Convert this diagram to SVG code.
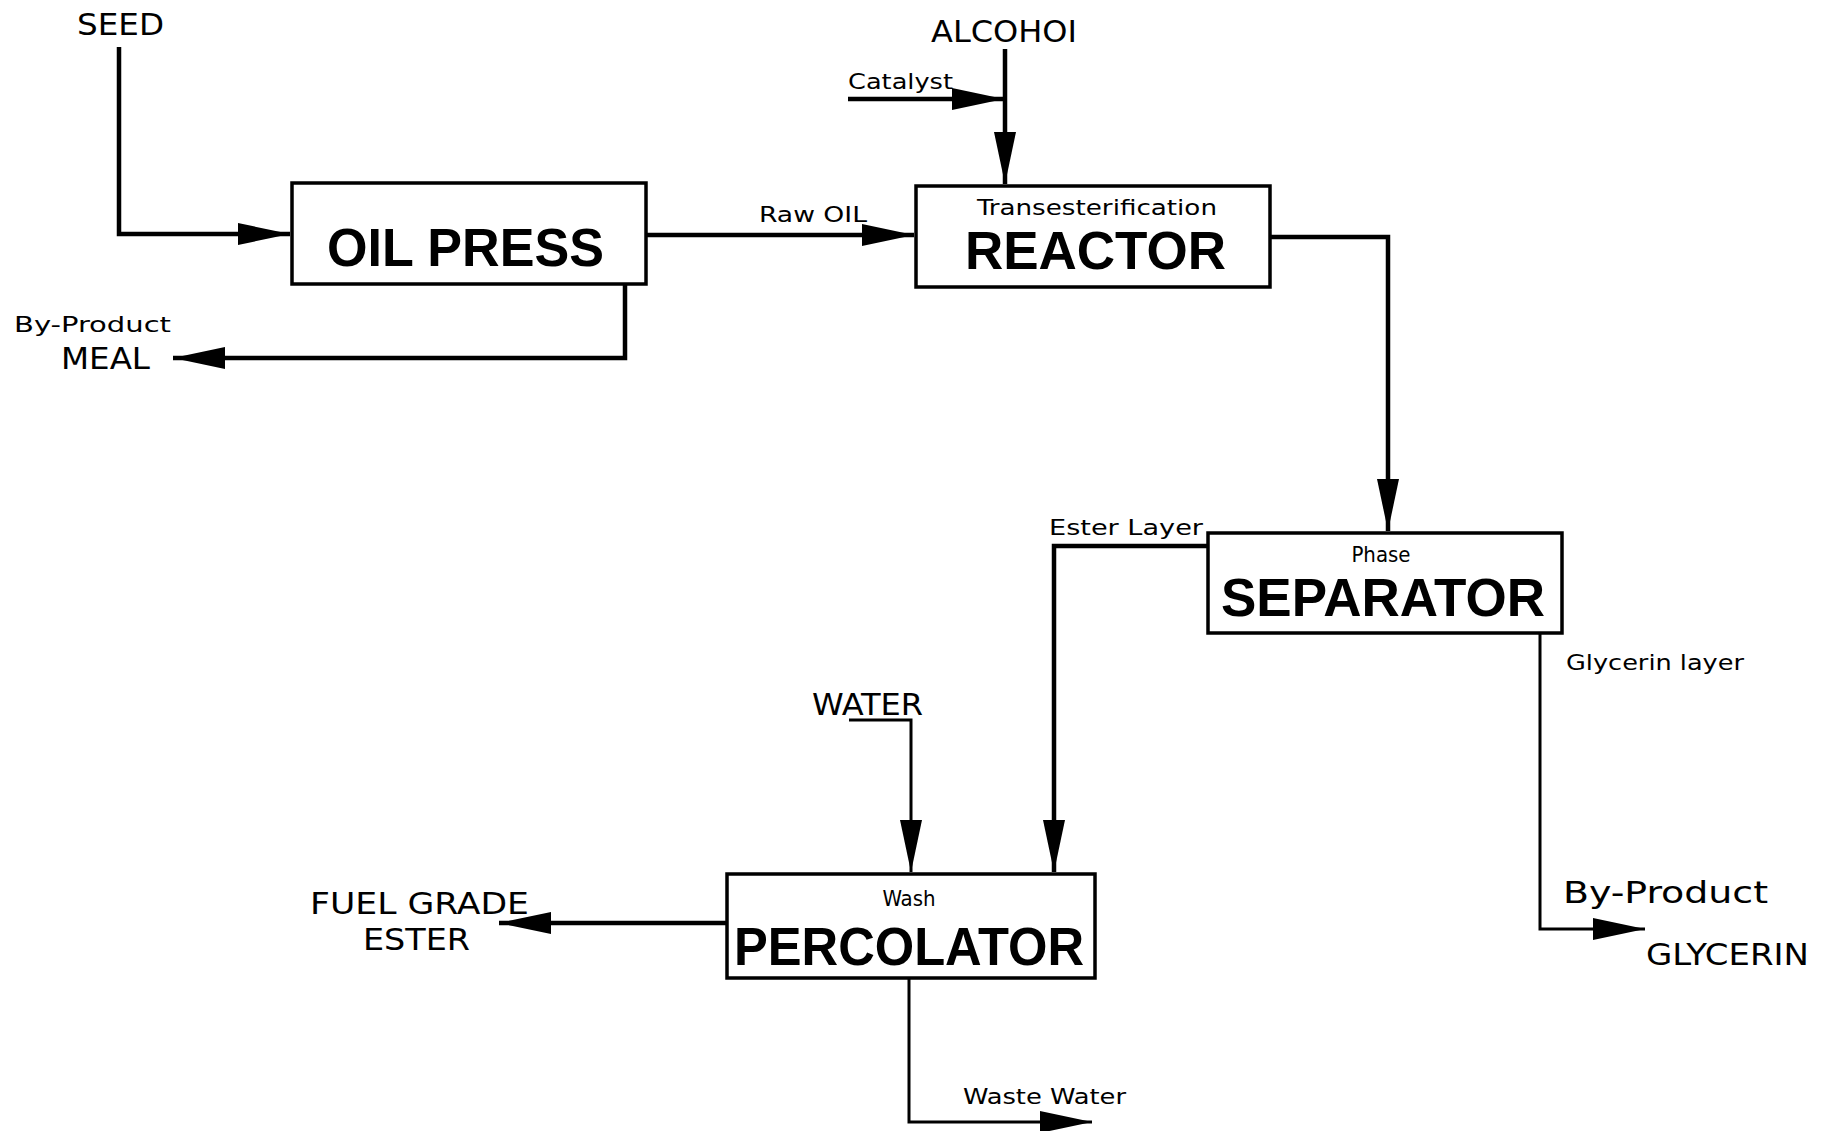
<svg xmlns="http://www.w3.org/2000/svg" width="1832" height="1131" viewBox="0 0 1832 1131">
<defs>
<marker id="ah" markerUnits="userSpaceOnUse" markerWidth="52" markerHeight="22" refX="52" refY="11" orient="auto" viewBox="0 0 52 22">
<path d="M0,0 L52,11 L0,22 Z" fill="#000"/>
</marker>
<style>
.box{fill:#fff;stroke:#000;stroke-width:3.5}
.ln{fill:none;stroke:#000;stroke-width:4.5}
.thin{fill:none;stroke:#000;stroke-width:3}
.big{font-family:"Liberation Sans",Arial,sans-serif;font-weight:bold;font-size:54px}
.lbl{font-family:"DejaVu Sans Condensed","DejaVu Sans",sans-serif;font-size:31px}
.sm{font-family:"DejaVu Sans Condensed","DejaVu Sans",sans-serif;font-size:22px}
</style>
</defs>
<rect width="1832" height="1131" fill="#fff"/>
<g id="connectors">
<polyline class="ln" points="119,47 119,234 290,234" marker-end="url(#ah)"/>
<line class="ln" x1="646" y1="235" x2="914" y2="235" marker-end="url(#ah)"/>
<polyline class="ln" points="625,284 625,358 173,358" marker-end="url(#ah)"/>
<line class="ln" x1="1005" y1="49" x2="1005" y2="184" marker-end="url(#ah)"/>
<line class="ln" x1="848" y1="99" x2="1004" y2="99" marker-end="url(#ah)"/>
<polyline class="ln" points="1270,237 1388,237 1388,531" marker-end="url(#ah)"/>
<polyline class="ln" points="1208,546 1054,546 1054,872" marker-end="url(#ah)"/>
<polyline class="thin" points="1540,633 1540,929 1645,929" marker-end="url(#ah)"/>
<polyline class="thin" points="849,720 911,720 911,872" marker-end="url(#ah)"/>
<line class="ln" x1="727" y1="923" x2="499" y2="923" marker-end="url(#ah)"/>
<polyline class="thin" points="909,978 909,1122 1092,1122" marker-end="url(#ah)"/>
</g>
<g id="oil-press">
<rect class="box" x="292" y="183" width="354" height="101"/>
<text class="big" x="327" y="266" textLength="277" lengthAdjust="spacingAndGlyphs">OIL PRESS</text>
</g>
<g id="reactor">
<rect class="box" x="916" y="186" width="354" height="101"/>
<text class="sm" x="977" y="215" textLength="240" lengthAdjust="spacingAndGlyphs">Transesterification</text>
<text class="big" x="965" y="269" textLength="261" lengthAdjust="spacingAndGlyphs">REACTOR</text>
</g>
<g id="separator">
<rect class="box" x="1208" y="533" width="354" height="100"/>
<text class="sm" x="1381" y="562" text-anchor="middle">Phase</text>
<text class="big" x="1221" y="616" textLength="324" lengthAdjust="spacingAndGlyphs">SEPARATOR</text>
</g>
<g id="percolator">
<rect class="box" x="727" y="874" width="368" height="104"/>
<text class="sm" x="909" y="906" text-anchor="middle">Wash</text>
<text class="big" x="734" y="965" textLength="350" lengthAdjust="spacingAndGlyphs">PERCOLATOR</text>
</g>
<g id="labels">
<text class="lbl" x="77" y="35" textLength="87" lengthAdjust="spacingAndGlyphs">SEED</text>
<text class="lbl" x="931" y="42" textLength="146" lengthAdjust="spacingAndGlyphs">ALCOHOI</text>
<text class="sm" x="848" y="89" textLength="105" lengthAdjust="spacingAndGlyphs">Catalyst</text>
<text class="sm" x="759" y="222" textLength="108" lengthAdjust="spacingAndGlyphs">Raw OIL</text>
<text class="sm" x="14" y="332" textLength="157" lengthAdjust="spacingAndGlyphs">By-Product</text>
<text class="lbl" x="61" y="369" textLength="89" lengthAdjust="spacingAndGlyphs">MEAL</text>
<text class="sm" x="1049" y="535" textLength="154" lengthAdjust="spacingAndGlyphs">Ester Layer</text>
<text class="sm" x="1566" y="670" textLength="178" lengthAdjust="spacingAndGlyphs">Glycerin layer</text>
<text class="lbl" x="1563" y="903" textLength="205" lengthAdjust="spacingAndGlyphs">By-Product</text>
<text class="lbl" x="1646" y="965" textLength="163" lengthAdjust="spacingAndGlyphs">GLYCERIN</text>
<text class="lbl" x="812" y="715" textLength="111" lengthAdjust="spacingAndGlyphs">WATER</text>
<text class="lbl" x="310" y="914" textLength="219" lengthAdjust="spacingAndGlyphs">FUEL GRADE</text>
<text class="lbl" x="363" y="950" textLength="107" lengthAdjust="spacingAndGlyphs">ESTER</text>
<text class="sm" x="963" y="1104" textLength="163" lengthAdjust="spacingAndGlyphs">Waste Water</text>
</g>
</svg>
